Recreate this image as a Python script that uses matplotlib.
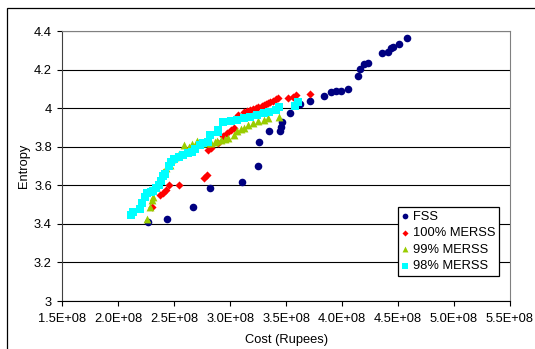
import matplotlib
matplotlib.use("Agg")
import matplotlib.pyplot as plt
from matplotlib.patches import Rectangle
from matplotlib.ticker import FuncFormatter, MultipleLocator

plt.rcParams['font.family'] = ['Liberation Sans', 'DejaVu Sans']
plt.rcParams['font.size'] = 9.3

# Custo em unidades de 1E+08 rupias, entropia
fss_custo = [2.27, 2.44, 2.67, 2.82, 3.11, 3.25, 3.256, 3.348, 3.447, 3.455, 3.464,
             3.535, 3.62, 3.712, 3.834, 3.905, 3.941, 3.986, 4.054, 4.14, 4.164,
             4.20, 4.227, 4.357, 4.411, 4.441, 4.455, 4.506, 4.58]
fss_entropia = [3.41, 3.425, 3.487, 3.587, 3.62, 3.70, 3.824, 3.88, 3.885, 3.905, 3.93,
                3.977, 4.022, 4.04, 4.066, 4.084, 4.089, 4.089, 4.098, 4.17, 4.205,
                4.231, 4.238, 4.287, 4.295, 4.313, 4.321, 4.333, 4.365]

m100_custo = [2.30, 2.37, 2.40, 2.43, 2.45, 2.545, 2.77, 2.79, 2.80, 2.825, 2.89,
              2.94, 2.97, 3.01, 3.03, 3.07, 3.12, 3.15, 3.18, 3.205, 3.23, 3.25,
              3.28, 3.30, 3.32, 3.34, 3.36, 3.385, 3.41, 3.43, 3.52, 3.56, 3.59, 3.71]
m100_entropia = [3.487, 3.551, 3.56, 3.578, 3.60, 3.60, 3.637, 3.655, 3.785, 3.793, 3.82,
                 3.855, 3.87, 3.888, 3.897, 3.968, 3.98, 3.988, 3.993, 3.997, 4.0, 4.006,
                 4.012, 4.018, 4.022, 4.027, 4.033, 4.04, 4.047, 4.053, 4.053, 4.061, 4.07, 4.075]

m99_custo = [2.26, 2.28, 2.30, 2.31, 2.34, 2.37, 2.40, 2.43, 2.46, 2.48, 2.51, 2.54,
             2.59, 2.63, 2.655, 2.70, 2.74, 2.79, 2.83, 2.86, 2.88, 2.92, 2.95, 2.98,
             3.03, 3.06, 3.10, 3.12, 3.16, 3.20, 3.25, 3.30, 3.34, 3.44]
m99_entropia = [3.424, 3.49, 3.525, 3.542, 3.594, 3.637, 3.672, 3.69, 3.706, 3.735, 3.75,
                3.765, 3.808, 3.80, 3.815, 3.828, 3.822, 3.82, 3.82, 3.826, 3.83, 3.836,
                3.84, 3.845, 3.862, 3.88, 3.894, 3.90, 3.915, 3.925, 3.935, 3.94, 3.948, 3.957]

m98_custo = [2.11, 2.13, 2.19, 2.21, 2.235, 2.26, 2.29, 2.31, 2.34, 2.36, 2.385, 2.40,
             2.42, 2.45, 2.47, 2.50, 2.54, 2.58, 2.62, 2.66, 2.69, 2.73, 2.76, 2.80,
             2.82, 2.89, 2.89, 2.94, 3.01, 3.06, 3.12, 3.18, 3.24, 3.30, 3.35, 3.41,
             3.44, 3.58, 3.61]
m98_entropia = [3.448, 3.46, 3.48, 3.51, 3.54, 3.56, 3.565, 3.57, 3.585, 3.60, 3.625, 3.65,
                3.66, 3.70, 3.72, 3.735, 3.75, 3.76, 3.768, 3.775, 3.79, 3.81, 3.82, 3.825,
                3.86, 3.875, 3.89, 3.93, 3.935, 3.94, 3.948, 3.957, 3.966, 3.975, 3.983, 3.99,
                4.005, 4.01, 4.033]

escala = 1e8

fig = plt.figure(figsize=(5.35, 3.49), dpi=100)
ax = fig.add_axes([0.1164, 0.1375, 0.9533 - 0.1164, 0.9103 - 0.1375])

# borda externa do grafico (cortada na direita e embaixo)
fig.patches.append(Rectangle((7 / 535, -0.2), 1.5, 1.2 - 8 / 349,
                             transform=fig.transFigure, fill=False,
                             edgecolor='black', linewidth=0.9))

ax.scatter([c * escala for c in fss_custo], fss_entropia, marker='o', s=30,
           color='#000080', linewidths=0, label='FSS', zorder=3)
ax.scatter([c * escala for c in m100_custo], m100_entropia, marker='D', s=17,
           color='#FF0000', linewidths=0, label='100% MERSS', zorder=3)
ax.scatter([c * escala for c in m99_custo], m99_entropia, marker='^', s=32,
           color='#99CC00', linewidths=0, label='99% MERSS', zorder=3)
ax.scatter([c * escala for c in m98_custo], m98_entropia, marker='s', s=30,
           color='#00FFFF', linewidths=0, label='98% MERSS', zorder=3)

ax.set_xlim(1.5e8, 5.5e8)
ax.set_ylim(3, 4.4)
ax.xaxis.set_major_locator(MultipleLocator(0.5e8))
ax.yaxis.set_major_locator(MultipleLocator(0.2))
ax.xaxis.set_major_formatter(FuncFormatter(lambda v, p: '%.1E' % v))
ax.yaxis.set_major_formatter(FuncFormatter(lambda v, p: '%g' % round(v, 1)))

ax.grid(True, axis='y', color='black', linewidth=0.8)
ax.set_axisbelow(True)
ax.tick_params(direction='out', length=3.5, width=0.8, color='black', pad=4)
ax.tick_params(axis='x', pad=5)
for lado in ['top', 'right']:
    ax.spines[lado].set_color('#808080')
ax.spines['left'].set_color('#404040')
ax.spines['bottom'].set_color('black')

ax.set_xlabel('Cost (Rupees)')
ax.set_ylabel('Entropy')
ax.xaxis.set_label_coords(0.5, -0.145)
ax.xaxis.label.set_va('center')
ax.yaxis.set_label_coords(-0.0855, 0.5)
ax.yaxis.label.set_va('center')

leg = ax.legend(loc='upper left', bbox_to_anchor=(0.7505, 0.3474), borderaxespad=0,
                fancybox=False, framealpha=1, edgecolor='black', scatterpoints=1,
                handlelength=0.6, handletextpad=0.3, borderpad=0.25,
                labelspacing=0.35, markerscale=0.75)
leg.get_frame().set_linewidth(0.9)

plt.savefig('out.png', dpi=100)
